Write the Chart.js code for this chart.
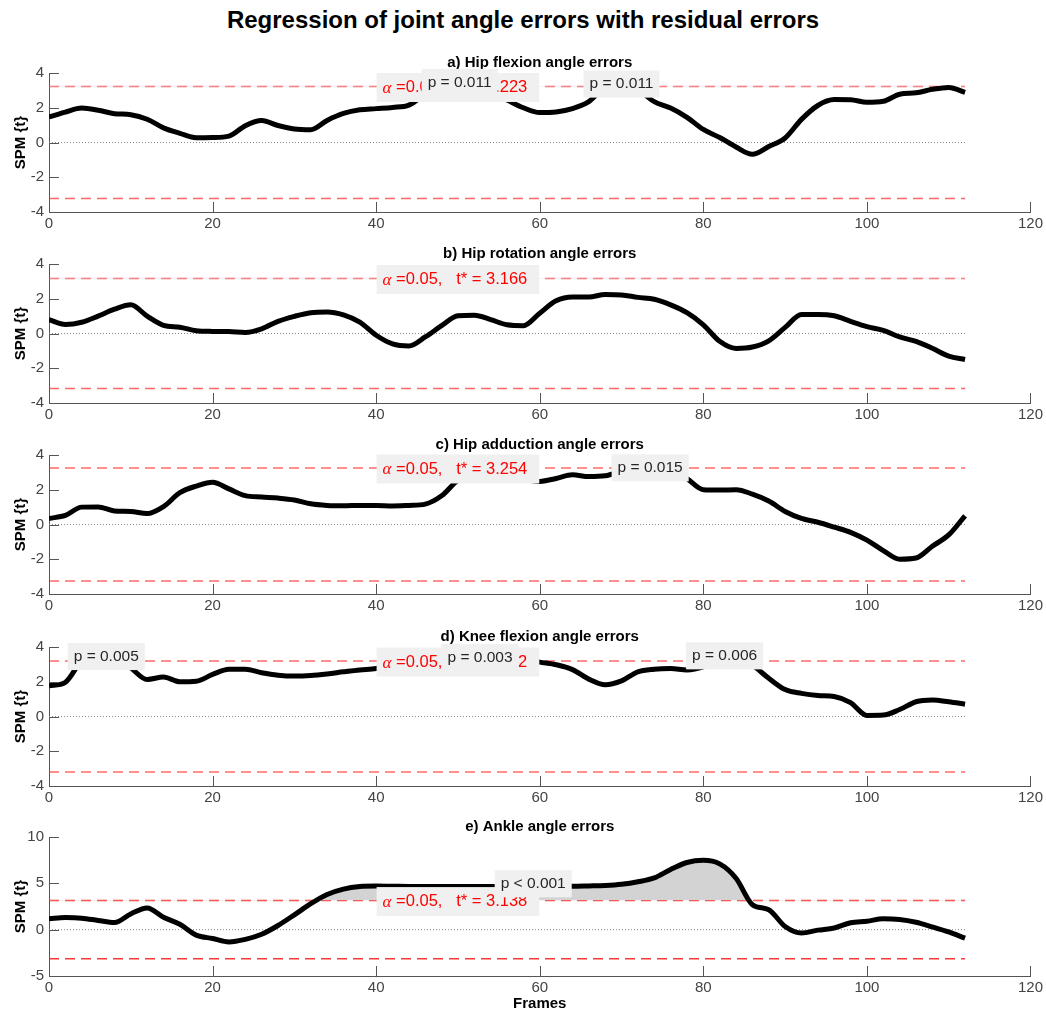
<!DOCTYPE html>
<html>
<head>
<meta charset="utf-8">
<title>Regression of joint angle errors</title>
<script src="https://cdn.jsdelivr.net/npm/chart.js@4.4.1/dist/chart.umd.min.js"></script>
<style>
    body { margin: 0; width: 1046px; height: 1013px; overflow: hidden; background: #fff; position: relative; font-family: "Liberation Sans", Arial, sans-serif; }
    #main-title { position: absolute; left: 0; top: 8px; width: 1046px; text-align: center; font-size: 24px; line-height: 24px; font-weight: bold; color: #000; }
    canvas { position: absolute; left: 0; }
</style>
</head>
<body>
<div id="main-title">Regression of joint angle errors with residual errors</div>
<canvas id="panel-0" width="1046" height="194" style="top:43px"></canvas>
<canvas id="panel-1" width="1046" height="194" style="top:234px"></canvas>
<canvas id="panel-2" width="1046" height="194" style="top:425px"></canvas>
<canvas id="panel-3" width="1046" height="194" style="top:617px"></canvas>
<canvas id="panel-4" width="1046" height="206" style="top:807px"></canvas>
<script>
const frames = [0, 2, 4, 6, 8, 10, 12, 14, 16, 18, 20, 22, 24, 26, 28, 30, 32, 34, 36, 38, 40, 42, 44, 46, 48, 50, 52, 54, 56, 58, 60, 62, 64, 66, 68, 70, 72, 74, 76, 78, 80, 82, 84, 86, 88, 90, 92, 94, 96, 98, 100, 102, 104, 106, 108, 110, 112];

const hipFlexion = [1.47, 1.75, 1.98, 1.86, 1.66, 1.6, 1.34, 0.84, 0.53, 0.28, 0.29, 0.37, 0.97, 1.26, 0.98, 0.78, 0.74, 1.27, 1.67, 1.88, 1.95, 2.02, 2.15, 2.8, 3.3, 3.45, 3.3, 2.9, 2.45, 2.0, 1.72, 1.76, 1.95, 2.35, 3.2, 3.4, 3.05, 2.35, 1.98, 1.45, 0.75, 0.29, -0.26, -0.68, -0.23, 0.26, 1.33, 2.13, 2.47, 2.46, 2.31, 2.37, 2.78, 2.86, 3.06, 3.17, 2.88];
const hipRotation = [0.8, 0.52, 0.65, 1.0, 1.4, 1.65, 1.0, 0.47, 0.36, 0.16, 0.12, 0.11, 0.06, 0.27, 0.7, 0.99, 1.2, 1.24, 1.07, 0.65, -0.1, -0.6, -0.72, -0.2, 0.45, 1.02, 1.05, 0.8, 0.5, 0.45, 1.17, 1.88, 2.1, 2.1, 2.25, 2.22, 2.08, 1.97, 1.65, 1.2, 0.5, -0.45, -0.86, -0.78, -0.42, 0.35, 1.1, 1.1, 1.02, 0.7, 0.4, 0.18, -0.2, -0.45, -0.85, -1.3, -1.5];
const hipAdduction = [0.35, 0.52, 1.0, 1.01, 0.78, 0.75, 0.63, 1.03, 1.83, 2.21, 2.43, 2.05, 1.66, 1.58, 1.52, 1.41, 1.19, 1.1, 1.08, 1.1, 1.1, 1.07, 1.1, 1.17, 1.65, 2.55, 2.95, 3.0, 2.85, 2.6, 2.48, 2.65, 2.86, 2.76, 2.8, 3.1, 3.4, 3.5, 3.3, 2.65, 2.0, 1.98, 2.0, 1.75, 1.35, 0.75, 0.35, 0.13, -0.15, -0.45, -0.9, -1.5, -2.0, -1.93, -1.25, -0.6, 0.5];
const kneeFlexion = [1.77, 1.97, 3.2, 3.55, 3.5, 2.8, 2.13, 2.27, 2.0, 2.03, 2.42, 2.72, 2.72, 2.52, 2.38, 2.33, 2.36, 2.45, 2.57, 2.68, 2.76, 2.95, 3.15, 3.35, 3.5, 3.55, 3.6, 3.55, 3.45, 3.3, 3.13, 2.98, 2.7, 2.15, 1.83, 2.05, 2.57, 2.72, 2.76, 2.68, 2.85, 3.3, 3.38, 2.95, 2.2, 1.55, 1.33, 1.21, 1.15, 0.8, 0.06, 0.08, 0.4, 0.85, 0.95, 0.85, 0.71];
const ankle = [1.17, 1.3, 1.24, 1.0, 0.77, 1.7, 2.34, 1.35, 0.58, -0.59, -0.95, -1.32, -1.05, -0.5, 0.45, 1.6, 2.8, 3.8, 4.38, 4.65, 4.7, 4.68, 4.66, 4.65, 4.65, 4.65, 4.65, 4.66, 4.67, 4.67, 4.67, 4.68, 4.68, 4.72, 4.77, 4.9, 5.17, 5.59, 6.5, 7.25, 7.48, 7.1, 5.55, 2.7, 2.15, 0.35, -0.35, -0.05, 0.18, 0.75, 0.91, 1.18, 1.1, 0.8, 0.3, -0.25, -0.92];

const thresholds = [3.223, 3.166, 3.254, 3.192, 3.138];
const panelTitles = ["a) Hip flexion angle errors", "b) Hip rotation angle errors", "c) Hip adduction angle errors", "d) Knee flexion angle errors", "e) Ankle angle errors"];
const xTicks = [0, 20, 40, 60, 80, 100, 120];
const yTicksSmall = [-4, -2, 0, 2, 4];
const yTicksAnkle = [-5, 0, 5, 10];

const clustersA = [{ frame: 50.2, t: 3.46, text: "p = 0.011" }, { frame: 70.0, t: 3.36, text: "p = 0.011" }];
const clustersB = [];
const clustersC = [{ frame: 73.5, t: 3.26, text: "p = 0.015" }];
const clustersD = [{ frame: 7.0, t: 3.45, text: "p = 0.005" }, { frame: 52.7, t: 3.4, text: "p = 0.003" }, { frame: 82.6, t: 3.49, text: "p = 0.006" }];
const clustersE = [{ frame: 59.2, t: 4.95, text: "p < 0.001" }];

const FONT = "'Liberation Sans', Arial, sans-serif";
const AXIS = "#555";
const ALPHA_FRAME = 50;

const inwardTicks = {
    id: "inwardTicks",
    afterDraw(chart) {
        const { ctx, chartArea: area, scales: { x, y } } = chart;
        ctx.save();
        ctx.strokeStyle = AXIS;
        ctx.lineWidth = 1;
        ctx.beginPath();
        x.ticks.forEach(t => {
            const px = Math.round(x.getPixelForValue(t.value)) + 0.5;
            ctx.moveTo(px, area.bottom);
            ctx.lineTo(px, area.bottom - 10);
        });
        y.ticks.forEach(t => {
            const py = Math.round(y.getPixelForValue(t.value)) + 0.5;
            ctx.moveTo(area.left, py);
            ctx.lineTo(area.left + 10, py);
        });
        ctx.stroke();
        ctx.restore();
    }
};

const panelLabels = {
    id: "panelLabels",
    afterDatasetsDraw(chart, args, opts) {
        const { ctx, chartArea: area, scales: { x, y } } = chart;
        ctx.save();
        ctx.textBaseline = "middle";
        ctx.textAlign = "center";
        ctx.fillStyle = "#000";
        ctx.font = `bold 15px ${FONT}`;
        ctx.fillText(opts.title, (area.left + area.right) / 2, area.top - 10);

        // alpha and critical t box
        const rest = " =0.05,   t* = " + opts.thresh.toFixed(3);
        ctx.font = "italic 17px 'Liberation Serif', serif";
        const wa = ctx.measureText("\u03b1").width;
        ctx.font = `16.5px ${FONT}`;
        const wr = ctx.measureText(rest).width;
        const bw = wa + wr + 18, bh = 29;
        const left = x.getPixelForValue(ALPHA_FRAME) - bw / 2, cy = y.getPixelForValue(opts.thresh) + 1;
        ctx.fillStyle = "#f0f0f0";
        ctx.fillRect(left, cy - bh / 2, bw, bh);
        ctx.fillStyle = "#f00";
        ctx.textAlign = "left";
        ctx.font = "italic 17px 'Liberation Serif', serif";
        ctx.fillText("\u03b1", left + 6, cy + 1);
        ctx.font = `16.5px ${FONT}`;
        ctx.fillText(rest, left + 6 + wa, cy);

        // cluster p values
        ctx.textAlign = "center";
        ctx.font = `15.5px ${FONT}`;
        opts.clusters.forEach(c => {
            const w = ctx.measureText(c.text).width + 12, h = 27;
            const px = x.getPixelForValue(c.frame), py = y.getPixelForValue(c.t);
            ctx.fillStyle = "#f0f0f0";
            ctx.fillRect(px - w / 2, py - h / 2, w, h);
            ctx.fillStyle = "#262626";
            ctx.fillText(c.text, px, py);
        });
        ctx.restore();
    }
};

function drawPanel(index, values, clusters, yTicks, showFrames) {
    const thresh = thresholds[index];
    const last = frames[frames.length - 1];
    const curve = frames.map((f, i) => ({ x: f, y: values[i] }));
    const flat = v => [{ x: frames[0], y: v }, { x: last, y: v }];
    const dashColor = showFrames ? "rgba(255,20,20,0.85)" : "rgba(255,40,40,0.7)";
    const dash = { borderColor: dashColor, borderWidth: 1.5, borderDash: [10, 6], pointRadius: 0, fill: false };

    new Chart(document.getElementById(`panel-${index}`), {
        type: "line",
        data: {
            datasets: [
                { data: curve, borderColor: "#000", borderWidth: 5, pointRadius: 0, cubicInterpolationMode: "monotone", borderJoinStyle: "round",
                  fill: { target: { value: thresh }, above: "#d3d3d3", below: "rgba(0,0,0,0)" } },
                { data: flat(thresh), ...dash },
                { data: flat(-thresh), ...dash },
                { data: flat(0), borderColor: "#888", borderWidth: 1, borderDash: [1, 2], pointRadius: 0, fill: false }
            ]
        },
        options: {
            responsive: false,
            animation: false,
            events: [],
            layout: { padding: { top: 30, right: 15, left: 0, bottom: 0 } },
            plugins: {
                legend: { display: false },
                tooltip: { enabled: false },
                panelLabels: { title: panelTitles[index], thresh, clusters }
            },
            scales: {
                x: {
                    type: "linear", min: 0, max: 120,
                    afterBuildTicks: s => { s.ticks = xTicks.map(v => ({ value: v })); },
                    afterFit: s => { s.height = showFrames ? 37 : 25; },
                    grid: { display: false, drawTicks: false },
                    border: { display: true, color: AXIS, width: 1 },
                    ticks: { color: "#444", font: { family: FONT, size: 15 }, padding: 3, maxRotation: 0 },
                    title: { display: showFrames, text: "Frames", color: "#000", font: { family: FONT, size: 15, weight: "bold" }, padding: { top: 0, bottom: 0 } }
                },
                y: {
                    min: yTicks[0], max: yTicks[yTicks.length - 1],
                    afterBuildTicks: s => { s.ticks = yTicks.map(v => ({ value: v })); },
                    afterFit: s => { s.width = 49; },
                    grid: { display: false, drawTicks: false },
                    border: { display: true, color: AXIS, width: 1 },
                    ticks: { color: "#444", font: { family: FONT, size: 15 }, padding: 5 },
                    title: { display: true, text: "SPM {t}", color: "#000", font: { family: FONT, size: 15, weight: "bold" }, padding: { top: 12, bottom: 0 } }
                }
            }
        },
        plugins: [inwardTicks, panelLabels]
    });
}

drawPanel(0, hipFlexion, clustersA, yTicksSmall, false);
drawPanel(1, hipRotation, clustersB, yTicksSmall, false);
drawPanel(2, hipAdduction, clustersC, yTicksSmall, false);
drawPanel(3, kneeFlexion, clustersD, yTicksSmall, false);
drawPanel(4, ankle, clustersE, yTicksAnkle, true);
</script>
</body>
</html>
